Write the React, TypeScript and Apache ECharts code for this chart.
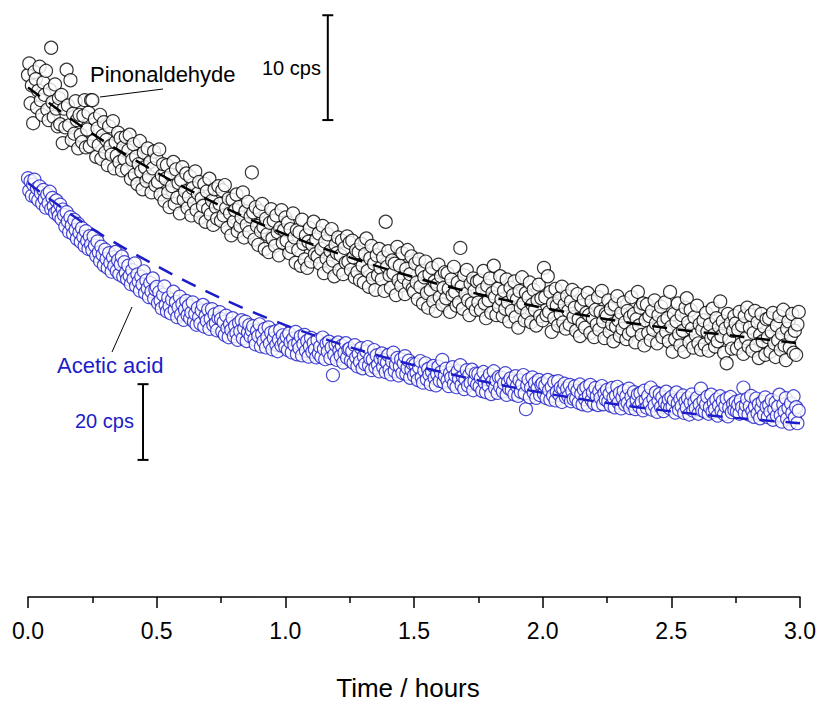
import React, { useEffect, useRef } from "react";
import * as echarts from "echarts";

// Sampling of the measured traces (hours between points)
const SAMPLE_STEP_H = 0.005;

// Pinonaldehyde signal (cps), one value per sample from t = 0
const PINONALDEHYDE_CPS = [
  49.8, 50.9, 47.1, 48.8, 45.2, 50.1, 49.4, 46.7, 48.3, 50.6, 47.4, 46.0, 49.1, 47.9, 50.2, 46.5, 45.5, 48.4, 52.4, 47.2, 45.8, 48.9, 46.6, 44.9, 47.6,
  45.1, 47.9, 43.3, 46.6, 44.8, 50.3, 46.9, 45.0, 49.3, 43.6, 46.1, 44.2, 47.3, 45.5, 42.8, 46.0, 44.1, 43.4, 45.9, 47.4, 42.9, 44.6, 46.2, 43.0, 47.4,
  47.4, 43.5, 45.6, 42.0, 44.7, 43.1, 46.0, 41.8, 44.0, 45.3, 42.4, 43.6, 41.2, 44.9, 43.0, 42.2, 45.4, 40.9, 43.4, 42.1, 44.3, 41.5, 43.8, 40.7, 42.9,
  41.8, 43.9, 40.8, 42.6, 44.1, 39.9, 41.7, 43.2, 40.3, 42.0, 39.4, 41.3, 43.5, 40.6, 38.9, 42.4, 41.0, 39.7, 42.8, 40.1, 41.5, 38.6, 40.9, 42.5, 39.3,
  41.8, 39.6, 42.7, 38.4, 40.2, 41.3, 37.8, 39.9, 41.2, 38.6, 37.2, 40.3, 39.2, 41.5, 37.5, 40.8, 38.1, 39.5, 36.6, 39.8, 41.0, 37.9, 38.7, 40.4, 37.1,
  38.2, 40.1, 36.4, 39.0, 37.6, 40.6, 36.9, 38.5, 39.6, 36.2, 38.0, 37.3, 39.4, 35.8, 38.7, 37.0, 39.9, 36.5, 37.8, 35.5, 38.9, 37.2, 36.1, 39.2, 37.5,
  35.9, 38.8, 36.4, 39.3, 37.1, 35.2, 38.0, 36.6, 34.5, 37.9, 35.8, 36.9, 38.4, 34.9, 37.2, 35.4, 36.2, 38.6, 34.3, 36.8, 35.5, 37.7, 34.8, 36.3, 40.5,
  36.7, 34.1, 37.2, 35.4, 33.6, 36.8, 34.9, 37.5, 35.3, 33.2, 36.1, 34.6, 32.9, 35.7, 37.0, 34.2, 35.9, 33.5, 36.4, 34.8, 32.6, 35.2, 36.9, 33.8, 35.0,
  36.2, 34.0, 35.7, 32.8, 35.1, 33.4, 36.6, 34.3, 31.9, 35.0, 33.1, 34.8, 31.6, 36.0, 33.7, 32.2, 34.5, 31.4, 33.9, 35.2, 32.0, 33.6, 35.8, 32.7, 34.1,
  32.5, 34.7, 31.8, 33.2, 35.4, 30.9, 33.9, 32.3, 34.6, 31.5, 33.0, 35.1, 32.1, 30.6, 33.6, 32.8, 34.3, 31.2, 32.6, 34.0, 30.8, 33.3, 31.9, 34.4, 32.0,
  33.8, 31.2, 34.0, 32.4, 30.5, 33.1, 31.0, 32.9, 30.2, 33.7, 31.6, 30.0, 32.7, 34.2, 31.1, 29.6, 32.3, 33.5, 30.4, 31.8, 29.3, 32.6, 30.7, 33.2, 31.4,
  30.3, 32.4, 29.2, 35.8, 31.5, 33.0, 30.7, 29.5, 32.1, 30.9, 31.8, 28.8, 33.4, 30.2, 31.6, 29.7, 32.8, 30.5, 28.9, 31.3, 33.1, 29.9, 30.8, 32.5, 29.4,
  29.1, 31.8, 30.0, 28.4, 32.2, 29.6, 31.1, 28.0, 30.5, 32.0, 29.0, 27.6, 30.8, 29.3, 31.4, 28.2, 30.1, 27.3, 29.8, 31.7, 28.6, 30.6, 27.9, 29.5, 31.0,
  28.5, 30.9, 29.4, 27.2, 30.3, 28.8, 31.5, 29.1, 27.8, 30.0, 28.1, 33.3, 29.6, 27.5, 30.7, 28.9, 31.2, 28.3, 26.9, 29.9, 28.0, 30.4, 29.2, 27.4, 30.1,
  28.1, 30.2, 27.4, 29.3, 31.1, 28.0, 26.6, 29.7, 28.3, 30.4, 27.1, 29.0, 31.6, 28.6, 26.9, 29.4, 27.7, 30.6, 28.4, 26.8, 29.2, 27.5, 30.3, 28.1, 26.3,
  29.5, 27.3, 28.8, 30.1, 26.7, 28.4, 25.7, 29.2, 27.6, 30.5, 28.0, 26.4, 29.0, 27.1, 28.6, 30.0, 26.2, 27.9, 29.3, 27.4, 25.9, 28.3, 29.8, 26.8, 28.5,
  26.4, 31.4, 28.6, 26.9, 30.6, 27.2, 29.1, 25.3, 28.0, 26.6, 29.4, 27.8, 25.9, 28.5, 27.0, 29.6, 26.2, 27.9, 25.6, 28.7, 27.3, 26.0, 28.2, 29.3, 26.7,
  27.6, 25.4, 28.9, 26.5, 24.9, 27.8, 26.1, 28.4, 25.7, 27.1, 29.0, 26.9, 25.2, 28.2, 26.6, 24.8, 27.4, 26.0, 28.6, 25.5, 27.2, 29.2, 26.3, 24.7, 27.0,
  26.8, 28.3, 25.3, 27.5, 26.0, 24.4, 27.9, 25.8, 28.7, 26.4, 24.9, 27.1, 25.6, 28.1, 26.2, 24.6, 27.3, 25.1, 26.7, 28.6, 25.4, 27.0, 24.3, 26.5, 29.1,
  25.9, 27.6, 25.0, 28.0, 24.0, 26.4, 27.9, 25.2, 26.8, 24.5, 27.3, 25.5, 28.3, 26.1, 24.2, 26.9, 25.7, 27.7, 24.8, 26.3, 28.1, 25.3, 26.6, 24.4, 29.1,
  25.8, 23.4, 27.0, 24.6, 26.3, 28.0, 25.1, 24.0, 26.9, 25.4, 23.4, 27.6, 28.5, 26.2, 24.3, 27.4, 25.6, 23.8, 26.7, 25.0, 27.8, 24.2, 26.0, 23.6, 25.5,
  26.4, 24.1, 27.1, 25.3, 23.5, 26.0, 24.7, 27.5, 25.0, 23.9, 26.6, 24.4, 25.8, 28.2, 24.9, 26.3, 23.3, 25.6, 22.3, 27.0, 24.6, 26.1, 23.7, 25.4, 26.8,
  26.1, 23.7, 25.5, 27.2, 24.1, 25.9, 23.2, 26.8, 24.7, 27.6, 23.9, 25.7, 26.9, 23.5, 25.2, 27.3, 24.0, 26.2, 22.8, 25.0, 27.0, 24.4, 25.8, 23.1, 26.5,
  24.8, 26.6, 23.4, 25.3, 27.1, 24.2, 22.9, 25.9, 24.5, 26.8, 23.6, 25.1, 27.4, 24.0, 22.6, 25.6, 26.3, 23.8, 24.9, 27.0, 23.3, 25.4, 23.1, 26.0, 27.2,
];

// Acetic acid signal (cps), one value per sample from t = 0
const ACETIC_ACID_CPS = [
  110.6, 107.3, 109.8, 106.0, 108.9, 110.2, 105.6, 107.9, 104.8, 108.4, 106.7, 103.9, 107.5, 105.1, 102.8, 106.3, 104.0, 107.0, 102.5, 105.4, 103.2, 101.4, 104.7, 102.0, 100.6,
  103.6, 99.8, 102.3, 100.9, 97.8, 101.6, 99.2, 96.4, 100.3, 98.1, 95.9, 99.6, 97.0, 94.6, 98.5, 96.2, 93.8, 97.4, 95.1, 92.7, 96.6, 94.0, 91.9, 95.3, 93.1,
  91.6, 95.2, 92.8, 90.1, 93.9, 91.0, 88.7, 92.5, 90.4, 87.6, 91.7, 89.3, 86.9, 90.8, 88.2, 85.9, 89.7, 87.4, 91.1, 86.1, 88.9, 85.2, 87.8, 89.9, 84.6,
  88.4, 85.6, 83.9, 87.5, 84.8, 82.6, 86.3, 84.0, 88.1, 82.1, 85.2, 83.3, 80.9, 84.6, 82.5, 86.0, 80.3, 83.6, 81.5, 79.2, 82.9, 80.7, 84.1, 78.8, 81.2,
  81.9, 77.6, 80.5, 78.3, 76.2, 79.8, 82.0, 77.1, 75.4, 79.0, 76.8, 74.9, 78.5, 80.6, 75.8, 77.9, 73.9, 76.5, 79.3, 74.6, 77.4, 73.2, 75.9, 78.2, 74.4,
  76.9, 73.6, 75.1, 77.8, 72.7, 74.8, 71.9, 76.3, 73.9, 72.2, 75.6, 77.1, 71.4, 74.2, 72.9, 75.9, 70.8, 73.5, 76.0, 71.8, 74.6, 72.3, 70.4, 73.7, 75.2,
  73.4, 70.1, 72.6, 69.2, 74.3, 71.0, 68.6, 72.1, 70.5, 73.6, 68.9, 71.6, 69.7, 67.9, 72.4, 70.2, 73.1, 68.3, 70.9, 72.7, 67.6, 69.9, 71.8, 68.8, 70.4,
  71.5, 68.1, 66.7, 70.3, 68.9, 72.0, 66.2, 69.4, 67.5, 70.8, 65.9, 68.6, 71.2, 67.0, 69.8, 65.4, 68.3, 70.1, 66.6, 64.9, 68.0, 70.5, 66.4, 69.1, 67.3,
  66.0, 68.7, 65.2, 69.6, 67.3, 64.6, 68.2, 66.5, 70.0, 64.1, 67.0, 65.7, 68.8, 63.8, 66.8, 69.2, 65.0, 67.6, 63.5, 66.2, 68.4, 64.7, 67.1, 65.4, 63.3,
  67.8, 64.3, 66.1, 63.4, 68.5, 65.5, 62.8, 66.9, 64.8, 67.4, 63.1, 65.9, 58.6, 64.0, 66.6, 62.6, 67.2, 65.1, 63.7, 66.3, 61.9, 64.5, 67.0, 63.2, 65.4,
  65.6, 62.4, 64.9, 61.8, 66.5, 63.3, 60.9, 64.2, 62.1, 65.7, 60.4, 63.6, 61.5, 64.8, 66.0, 61.1, 63.0, 59.9, 62.7, 65.2, 60.6, 63.8, 61.3, 59.6, 62.9,
  64.3, 60.8, 62.6, 59.4, 61.9, 63.9, 60.1, 58.8, 62.2, 64.5, 59.7, 61.4, 63.1, 58.5, 60.9, 62.8, 59.2, 61.7, 63.6, 58.9, 60.5, 62.4, 57.9, 60.0, 61.6,
  58.5, 61.4, 59.2, 57.3, 60.6, 62.3, 58.0, 56.6, 59.8, 61.7, 57.5, 60.2, 58.7, 56.2, 59.5, 61.0, 57.8, 55.9, 58.9, 60.8, 57.1, 59.3, 62.6, 56.8, 58.4,
  60.3, 57.2, 55.7, 59.1, 57.9, 60.7, 56.3, 58.5, 55.4, 59.6, 57.6, 61.2, 56.0, 58.2, 54.9, 57.4, 59.9, 55.8, 58.6, 56.5, 60.0, 54.6, 57.0, 59.0, 56.1,
  58.9, 55.6, 57.8, 54.4, 59.4, 56.6, 54.1, 57.5, 55.8, 58.8, 53.6, 56.9, 59.6, 55.2, 57.2, 53.9, 58.1, 55.5, 57.9, 54.3, 56.4, 59.1, 53.4, 56.7, 55.0,
  57.7, 54.6, 56.9, 53.5, 58.3, 55.7, 53.1, 57.2, 54.2, 56.1, 58.6, 53.8, 49.6, 55.9, 57.4, 52.8, 55.3, 58.0, 54.0, 56.5, 52.6, 55.1, 57.3, 53.3, 56.0,
  56.4, 53.7, 55.9, 52.5, 57.3, 54.6, 52.1, 55.5, 53.2, 56.8, 51.9, 54.2, 57.0, 53.4, 55.3, 51.5, 54.9, 56.3, 52.8, 55.0, 53.0, 56.0, 51.7, 54.4, 52.3,
  55.6, 52.4, 54.5, 51.3, 56.1, 53.6, 50.9, 54.8, 52.2, 55.4, 50.6, 53.3, 56.0, 52.0, 54.1, 51.1, 55.2, 53.0, 50.7, 54.3, 52.6, 55.7, 50.9, 53.8, 52.1,
  54.7, 51.6, 53.6, 50.5, 55.2, 52.6, 50.1, 53.2, 55.5, 51.3, 53.9, 49.8, 52.7, 54.4, 50.8, 53.0, 51.2, 55.0, 49.9, 52.9, 51.0, 54.1, 49.6, 52.1, 53.5,
  50.4, 53.8, 51.5, 49.3, 54.5, 52.0, 50.0, 53.1, 51.2, 55.3, 49.5, 52.4, 50.6, 54.0, 48.9, 51.8, 53.6, 50.2, 52.7, 49.1, 51.4, 54.2, 50.5, 52.2, 49.8,
  52.8, 50.3, 52.0, 48.7, 54.0, 51.1, 49.4, 52.3, 50.4, 53.2, 48.6, 51.6, 50.0, 52.5, 48.2, 51.3, 53.5, 49.2, 51.5, 49.8, 52.6, 48.4, 50.9, 55.0, 49.3,
  51.9, 49.0, 50.8, 52.9, 48.4, 50.1, 53.4, 48.9, 51.3, 49.6, 52.1, 47.9, 50.6, 53.0, 49.2, 51.7, 48.3, 50.4, 52.4, 47.7, 50.0, 52.8, 48.8, 51.0, 49.4,
  51.5, 49.0, 50.8, 48.4, 51.9, 50.1, 55.3, 48.7, 50.6, 52.3, 48.2, 50.4, 53.1, 49.1, 47.6, 50.3, 52.4, 48.5, 50.9, 47.2, 49.8, 51.6, 48.1, 52.7, 50.2,
  47.5, 50.7, 48.9, 52.0, 46.8, 49.6, 51.4, 47.9, 50.3, 53.4, 48.0, 46.3, 50.8, 49.0, 52.5, 47.1, 49.9, 45.8, 51.1, 48.6, 53.0, 47.4, 50.1, 45.9, 49.2,
];

// Fitted decay curves (dashed), read at these times
const FIT_TIMES = [0, 0.25, 0.5, 0.75, 1.0, 1.25, 1.5, 1.75, 2.0, 2.25, 2.5, 2.75, 3.0];
const PINONALDEHYDE_FIT = [48.6, 44.2, 40.5, 37.3, 34.6, 32.4, 30.5, 28.9, 27.6, 26.5, 25.6, 24.9, 24.2];
const ACETIC_ACID_FIT = [109.3, 97.2, 87.4, 78.9, 71.8, 66.0, 61.2, 57.2, 53.9, 51.2, 49.0, 47.3, 45.9];

// Scale bars: [time (h), lower cps, upper cps]
const PINON_SCALE_BAR = [1.165, 45.5, 55.5]; // 10 cps
const ACETIC_SCALE_BAR = [0.447, 36.2, 56.2]; // 20 cps

const BLUE = "#1c1cc8";
const FONT = "Liberation Sans, Arial, sans-serif";

export default function App() {
  const ref = useRef<HTMLDivElement>(null);

  useEffect(() => {
    if (!ref.current) return;
    const chart = echarts.init(ref.current, null, { renderer: "svg" });

    const toPoints = (vals: number[]) =>
      vals.map((v, i) => [Number((i * SAMPLE_STEP_H).toFixed(4)), v]);
    const fitPoints = (vals: number[]) => FIT_TIMES.map((t, i) => [t, vals[i]]);

    const scatterBase = {
      type: "scatter",
      symbol: "circle",
      symbolSize: 13,
      clip: false,
      silent: true,
    };

    const scaleBar = (bar: number[], yAxisIndex: number) => ({
      type: "line",
      yAxisIndex,
      data: [
        [bar[0], bar[1]],
        [bar[0], bar[2]],
      ],
      symbol: "rect",
      symbolSize: [11, 2],
      showSymbol: true,
      lineStyle: { color: "#000", width: 2 },
      itemStyle: { color: "#000" },
      silent: true,
      z: 6,
    });

    chart.setOption({
      animation: false,
      backgroundColor: "#fff",
      textStyle: { fontFamily: FONT },
      grid: { left: 28, right: 22, top: 10, bottom: 110 },
      xAxis: {
        type: "value",
        min: 0,
        max: 3,
        interval: 0.5,
        axisLine: { show: true, lineStyle: { color: "#000", width: 1.5 } },
        axisTick: { show: true, length: 11, lineStyle: { color: "#000", width: 1.5 } },
        minorTick: { show: true, splitNumber: 2, length: 6, lineStyle: { color: "#000", width: 1.5 } },
        splitLine: { show: false },
        minorSplitLine: { show: false },
        axisLabel: {
          formatter: (v: number) => v.toFixed(1),
          fontSize: 23,
          color: "#000",
          margin: 22,
          fontFamily: FONT,
        },
        name: "Time / hours",
        nameLocation: "middle",
        nameGap: 78,
        nameTextStyle: {
          fontSize: 26,
          color: "#000",
          fontFamily: FONT,
          padding: [0, 12, 0, 0],
        },
      },
      yAxis: [
        { type: "value", min: 0, max: 56, show: false },
        { type: "value", min: 0, max: 155, show: false },
      ],
      series: [
        {
          ...scatterBase,
          name: "Pinonaldehyde",
          yAxisIndex: 0,
          data: toPoints(PINONALDEHYDE_CPS),
          itemStyle: { color: "#fff", borderColor: "#000", borderWidth: 1.2 },
          z: 2,
        },
        {
          ...scatterBase,
          name: "Acetic acid",
          yAxisIndex: 1,
          data: toPoints(ACETIC_ACID_CPS),
          itemStyle: { color: "#fff", borderColor: BLUE, borderWidth: 1.2 },
          z: 2,
        },
        {
          type: "line",
          name: "Pinonaldehyde fit",
          yAxisIndex: 0,
          data: fitPoints(PINONALDEHYDE_FIT),
          smooth: 0.3,
          symbol: "none",
          lineStyle: { color: "#000", width: 2.5, type: [15, 11] },
          silent: true,
          z: 5,
        },
        {
          type: "line",
          name: "Acetic acid fit",
          yAxisIndex: 1,
          data: fitPoints(ACETIC_ACID_FIT),
          smooth: 0.3,
          symbol: "none",
          lineStyle: { color: BLUE, width: 2.5, type: [15, 11] },
          silent: true,
          z: 5,
        },
        scaleBar(PINON_SCALE_BAR, 0),
        scaleBar(ACETIC_SCALE_BAR, 1),
      ],
      graphic: [
        {
          type: "text",
          left: 90,
          top: 63,
          style: { text: "Pinonaldehyde", fontSize: 22, fill: "#000", fontFamily: FONT },
          z: 10,
        },
        {
          type: "line",
          shape: { x1: 100, y1: 97, x2: 163, y2: 89 },
          style: { stroke: "#000", lineWidth: 1 },
          z: 10,
        },
        {
          type: "text",
          left: 262,
          top: 58,
          style: { text: "10 cps", fontSize: 20, fill: "#000", fontFamily: FONT },
          z: 10,
        },
        {
          type: "text",
          left: 57,
          top: 354,
          style: { text: "Acetic acid", fontSize: 22, fill: BLUE, fontFamily: FONT },
          z: 10,
        },
        {
          type: "line",
          shape: { x1: 112, y1: 352, x2: 132, y2: 307 },
          style: { stroke: "#000", lineWidth: 1 },
          z: 10,
        },
        {
          type: "text",
          left: 75,
          top: 411,
          style: { text: "20 cps", fontSize: 20, fill: BLUE, fontFamily: FONT },
          z: 10,
        },
      ],
    });

    return () => chart.dispose();
  }, []);

  return (
    <div
      ref={ref}
      style={{ position: "fixed", left: 0, top: 0, width: 822, height: 707, background: "#fff" }}
    />
  );
}
